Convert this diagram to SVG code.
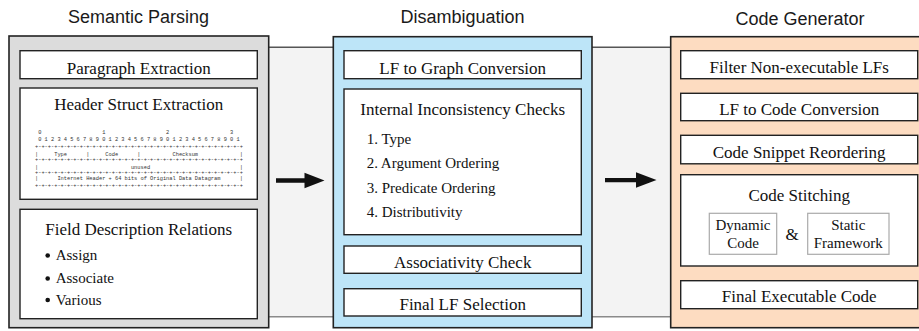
<svg xmlns="http://www.w3.org/2000/svg" width="919" height="331" viewBox="0 0 919 331">
<style>
.title{font-family:"Liberation Sans",Arial,sans-serif;font-size:18px;fill:#1a1a1a;text-anchor:middle}
.lbl{font-family:"Liberation Serif","Times New Roman",serif;font-size:17px;fill:#111;text-anchor:middle}
.item{font-family:"Liberation Serif","Times New Roman",serif;font-size:15px;fill:#111}
.small{font-family:"Liberation Serif","Times New Roman",serif;font-size:15px;fill:#111;text-anchor:middle}
.mono{font-family:"Liberation Mono","Courier New",monospace;font-size:5.33px;fill:#333}
.box{fill:#fff;stroke:#222;stroke-width:1.4}
.sub{fill:#fff;stroke:#aaa;stroke-width:1.2}
.outer{stroke:#222;stroke-width:1.6}
</style>

<!-- background band -->
<g id="band">
<rect x="200" y="47.3" width="600" height="269.4" fill="#f3f3f3"/>
<line x1="200" y1="47.3" x2="800" y2="47.3" stroke="#555" stroke-width="1.4"/>
<line x1="200" y1="316.7" x2="800" y2="316.7" stroke="#8a8a8a" stroke-width="1.4"/>
</g>

<!-- titles -->
<text class="title" x="138.5" y="23">Semantic Parsing</text>
<text class="title" x="462.5" y="22.5">Disambiguation</text>
<text class="title" x="800" y="24.5">Code Generator</text>

<!-- Semantic Parsing -->
<g id="semantic-parsing">
<rect class="outer" x="9" y="36" width="259.7" height="291.7" fill="#dcdcdc"/>
<g id="paragraph-extraction">
<rect class="box" x="20" y="50.7" width="237.3" height="28"/>
<text class="lbl" x="138.7" y="74">Paragraph Extraction</text>
</g>
<g id="header-struct-extraction">
<rect class="box" x="20" y="88" width="237.3" height="111.3"/>
<text class="lbl" x="138.7" y="110">Header Struct Extraction</text>
<text class="mono" xml:space="preserve" x="35" y="134.3"> 0                   1                   2                   3</text>
<text class="mono" xml:space="preserve" x="35" y="140.8"> 0 1 2 3 4 5 6 7 8 9 0 1 2 3 4 5 6 7 8 9 0 1 2 3 4 5 6 7 8 9 0 1</text>
<text class="mono" xml:space="preserve" x="35" y="147.6">+-+-+-+-+-+-+-+-+-+-+-+-+-+-+-+-+-+-+-+-+-+-+-+-+-+-+-+-+-+-+-+-+</text>
<text class="mono" xml:space="preserve" x="35" y="155.5">|     Type      |     Code      |          Checksum             |</text>
<text class="mono" xml:space="preserve" x="35" y="160.5">+-+-+-+-+-+-+-+-+-+-+-+-+-+-+-+-+-+-+-+-+-+-+-+-+-+-+-+-+-+-+-+-+</text>
<text class="mono" xml:space="preserve" x="35" y="168.8">|                             unused                            |</text>
<text class="mono" xml:space="preserve" x="35" y="174.2">+-+-+-+-+-+-+-+-+-+-+-+-+-+-+-+-+-+-+-+-+-+-+-+-+-+-+-+-+-+-+-+-+</text>
<text class="mono" xml:space="preserve" x="35" y="180.2">|      Internet Header + 64 bits of Original Data Datagram      |</text>
<text class="mono" xml:space="preserve" x="35" y="186.5">+-+-+-+-+-+-+-+-+-+-+-+-+-+-+-+-+-+-+-+-+-+-+-+-+-+-+-+-+-+-+-+-+</text>
</g>
<g id="field-description-relations">
<rect class="box" x="20" y="209.3" width="237.3" height="109.4"/>
<text class="lbl" x="138.7" y="235">Field Description Relations</text>
<circle cx="47.7" cy="255.5" r="2.3" fill="#111"/>
<text class="item" x="55.7" y="260">Assign</text>
<circle cx="47.7" cy="278.5" r="2.3" fill="#111"/>
<text class="item" x="55.7" y="283">Associate</text>
<circle cx="47.7" cy="300" r="2.3" fill="#111"/>
<text class="item" x="55.7" y="304.5">Various</text>
</g>
</g>

<!-- Disambiguation -->
<g id="disambiguation">
<rect class="outer" x="333.3" y="36.7" width="258.7" height="291" fill="#bde5f8"/>
<g id="lf-to-graph">
<rect class="box" x="344" y="50.7" width="237.3" height="28"/>
<text class="lbl" x="462.7" y="73.5">LF to Graph Conversion</text>
</g>
<g id="internal-inconsistency">
<rect class="box" x="344" y="89" width="237.3" height="145.7"/>
<text class="lbl" x="462.7" y="115">Internal Inconsistency Checks</text>
<text class="item" x="366.7" y="143.5">1.  Type</text>
<text class="item" x="366.7" y="168">2.  Argument Ordering</text>
<text class="item" x="366.7" y="192.5">3.  Predicate Ordering</text>
<text class="item" x="366.7" y="216.5">4.  Distributivity</text>
</g>
<g id="associativity-check">
<rect class="box" x="344" y="246" width="237.3" height="27.3"/>
<text class="lbl" x="462.7" y="268">Associativity Check</text>
</g>
<g id="final-lf-selection">
<rect class="box" x="344" y="288.7" width="237.3" height="27.3"/>
<text class="lbl" x="462.7" y="309.5">Final LF Selection</text>
</g>
</g>

<!-- Code Generator -->
<g id="code-generator">
<rect class="outer" x="670.7" y="36.7" width="262" height="291" fill="#fddcc1"/>
<g id="filter-non-executable">
<rect class="box" x="680.7" y="50.7" width="237" height="28"/>
<text class="lbl" x="799.2" y="72.7">Filter Non-executable LFs</text>
</g>
<g id="lf-to-code">
<rect class="box" x="680.7" y="93.3" width="237" height="27.4"/>
<text class="lbl" x="799.2" y="115">LF to Code Conversion</text>
</g>
<g id="code-snippet-reordering">
<rect class="box" x="680.7" y="135.3" width="237" height="28.5"/>
<text class="lbl" x="799.2" y="158.3">Code Snippet Reordering</text>
</g>
<g id="code-stitching">
<rect class="box" x="680.7" y="174.7" width="237" height="91.3"/>
<text class="lbl" x="799.2" y="201.3">Code Stitching</text>
<g id="dynamic-code">
<rect class="sub" x="709.3" y="213.3" width="67.4" height="41"/>
<text class="small" x="743" y="229.5">Dynamic</text>
<text class="small" x="743" y="247.5">Code</text>
</g>
<text class="lbl" x="792" y="239.5">&amp;</text>
<g id="static-framework">
<rect class="sub" x="807.7" y="213.3" width="81.3" height="41"/>
<text class="small" x="848.3" y="229.5">Static</text>
<text class="small" x="848.3" y="247.5">Framework</text>
</g>
</g>
<g id="final-executable-code">
<rect class="box" x="680.7" y="280.7" width="237" height="28"/>
<text class="lbl" x="799.2" y="302">Final Executable Code</text>
</g>
</g>

<!-- connectors -->
<g id="connectors" fill="#111">
<path d="M276,178.3 H304.5 V172.8 L324.5,180.5 L304.5,188.2 V182.7 H276 Z"/>
<path d="M605,178 H636 V172.3 L656.5,180 L636,187.7 V182.2 H605 Z"/>
</g>
</svg>
